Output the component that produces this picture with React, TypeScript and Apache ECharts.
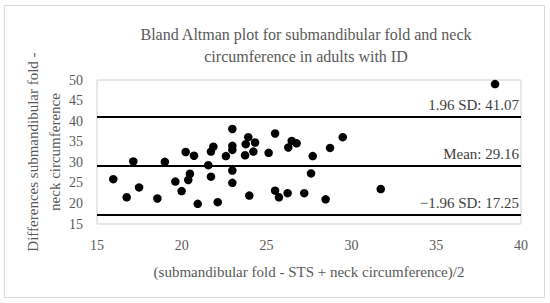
import React, { useEffect, useRef } from "react";
import * as echarts from "echarts";

const titleLines = ["Bland Altman plot for submandibular fold and neck", "circumference in adults with ID"];
const xAxisTitle = "(submandibular fold - STS + neck circumference)/2";
const yAxisTitleLines = ["Differences submandibular fold -", "neck circumference"];

const xMeans = [
  15.96, 16.75, 17.14, 17.48, 18.56, 19.0, 19.62, 19.99, 20.23, 20.38, 20.48, 20.72, 20.94,
  21.56, 21.72, 21.72, 21.86, 22.12, 22.6, 22.98, 22.98, 22.98, 22.98, 22.98, 23.73, 23.77,
  23.92, 23.98, 24.22, 24.32, 25.12, 25.5, 25.5, 25.73, 26.24, 26.28, 26.48, 26.77, 27.22,
  27.62, 27.72, 28.48, 28.74, 29.49, 31.73, 38.47,
];
const yDiffs = [
  25.9, 21.5, 30.2, 23.9, 21.2, 30.1, 25.3, 23.0, 32.5, 25.7, 27.2, 31.6, 19.9,
  29.3, 26.5, 32.6, 33.8, 20.3, 31.5, 38.1, 34.0, 33.0, 28.0, 25.0, 31.7, 34.4,
  36.1, 21.9, 32.6, 34.8, 32.3, 37.0, 23.1, 21.5, 22.5, 33.6, 35.2, 34.6, 22.5,
  27.3, 31.5, 21.0, 33.5, 36.1, 23.5, 49.0,
];
const refValues = [41.07, 29.16, 17.25];
const refLabels = ["1.96 SD: 41.07", "Mean: 29.16", "\u22121.96 SD: 17.25"];

const xTicks = { min: 15, max: 40, interval: 5 };
const yTicks = { min: 15, max: 50, interval: 5 };

const FONT = "'Liberation Serif', 'DejaVu Serif', serif";

export default function App() {
  const ref = useRef<HTMLDivElement>(null);
  useEffect(() => {
    if (!ref.current) return;
    const chart = echarts.init(ref.current, null, { renderer: "svg" });
    const points = xMeans.map((x, i) => [x, yDiffs[i]]);
    chart.setOption({
      animation: false,
      backgroundColor: "#ffffff",
      title: {
        text: titleLines.join("\n"),
        left: 301,
        top: 18,
        textAlign: "center",
        textStyle: {
          fontFamily: FONT,
          fontSize: 16,
          fontWeight: "normal",
          color: "#595959",
          lineHeight: 22,
        },
      },
      grid: { left: 97, right: 29, top: 80, bottom: 79, show: true, borderColor: "#d0d0d0", borderWidth: 1 },
      xAxis: {
        type: "value",
        ...xTicks,
        axisLine: { show: false },
        axisTick: { show: false },
        splitLine: { show: false },
        axisLabel: { color: "#595959", fontFamily: FONT, fontSize: 14, margin: 14 },
        name: xAxisTitle,
        nameLocation: "middle",
        nameGap: 40,
        nameTextStyle: { color: "#595959", fontFamily: FONT, fontSize: 15 },
      },
      yAxis: {
        type: "value",
        ...yTicks,
        axisLine: { show: false },
        axisTick: { show: false },
        splitLine: { show: false },
        axisLabel: { color: "#595959", fontFamily: FONT, fontSize: 14, margin: 14 },
      },
      graphic: [
        {
          type: "rect",
          shape: { x: 4.5, y: 5.5, width: 540, height: 292 },
          style: { fill: "none", stroke: "#d9d9d9", lineWidth: 1 },
          silent: true,
        },
        {
          type: "text",
          x: 44,
          y: 152,
          rotation: Math.PI / 2,
          style: {
            text: yAxisTitleLines.join("\n"),
            fontFamily: FONT,
            fontSize: 15,
            lineHeight: 22,
            fill: "#595959",
            align: "center",
            verticalAlign: "middle",
          },
        },
      ],
      series: [
        {
          type: "scatter",
          data: points,
          symbolSize: 8.5,
          itemStyle: { color: "#000000", opacity: 1 },
          markLine: {
            silent: true,
            symbol: "none",
            lineStyle: { color: "#000000", width: 2, type: "solid" },
            label: {
              show: true,
              position: "insideEndTop",
              fontFamily: FONT,
              fontSize: 15,
              color: "#404040",
              distance: [2, 4],
            },
            data: refValues.map((v, i) => ({ yAxis: v, label: { formatter: refLabels[i] } })),
          },
        },
      ],
    });
    return () => chart.dispose();
  }, []);
  return <div ref={ref} style={{ position: "absolute", left: 0, top: 0, width: 550, height: 303 }} />;
}
